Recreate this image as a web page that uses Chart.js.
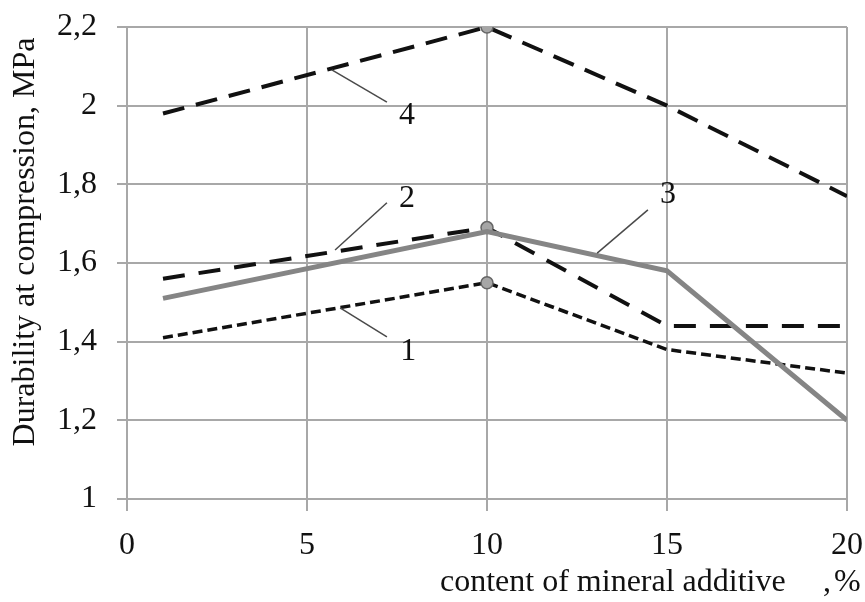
<!DOCTYPE html>
<html><head><meta charset="utf-8">
<script src="https://cdn.jsdelivr.net/npm/chart.js@4/dist/chart.umd.min.js"></script>
<style>html,body{margin:0;padding:0;background:#fff;} #wrap{width:865px;height:602px;}</style>
</head><body><div id="wrap"><canvas id="c" width="865" height="602"></canvas></div>
<script>
// ---- data ----
const xValues = [1, 10, 15, 20];
const series1 = [1.41, 1.55, 1.38, 1.32];
const series2 = [1.56, 1.69, 1.44, 1.44];
const series3 = [1.51, 1.68, 1.58, 1.20];
const series4 = [1.98, 2.20, 2.00, 1.77];
const xTickValues = [0, 5, 10, 15, 20];
const xTickLabels = ['0', '5', '10', '15', '20'];
const yTickValues = [1, 1.2, 1.4, 1.6, 1.8, 2, 2.2];
const yTickLabels = ['1', '1,2', '1,4', '1,6', '1,8', '2', '2,2'];
const yTitle = 'Durability at compression, MPa';
const xTitle = 'content of mineral additive';
const xTitleComma = ',';
const xTitleUnit = '%';
// callouts in data units: label, leader start (x,y), leader end (x,y), text centre (x,y)
const calloutLabels = ['1', '2', '3', '4'];
const calloutLine = [
  [5.92, 1.486, 7.22, 1.412],
  [5.78, 1.633, 7.22, 1.753],
  [13.06, 1.625, 14.47, 1.735],
  [5.69, 2.091, 7.22, 2.009]
];
const calloutText = [
  [7.81, 1.381],
  [7.78, 1.768],
  [15.03, 1.778],
  [7.78, 1.979]
];

const FONT = "'Liberation Serif', 'Times New Roman', serif";
const GRID = '#a8a8a8';
const toPts = s => xValues.map((x, i) => ({x: x, y: s[i]}));
const markerAt10 = ctx => ctx.dataIndex === 1 ? 6 : 0;

const annotPlugin = {
  id: 'annot',
  afterDatasetsDraw(chart) {
    const ctx = chart.ctx, xs = chart.scales.x, ys = chart.scales.y;
    ctx.save();
    ctx.strokeStyle = '#4a4a4a';
    ctx.lineWidth = 1.5;
    calloutLine.forEach(l => {
      ctx.beginPath();
      ctx.moveTo(xs.getPixelForValue(l[0]), ys.getPixelForValue(l[1]));
      ctx.lineTo(xs.getPixelForValue(l[2]), ys.getPixelForValue(l[3]));
      ctx.stroke();
    });
    ctx.fillStyle = '#111';
    ctx.font = '32px ' + FONT;
    ctx.textAlign = 'center';
    ctx.textBaseline = 'middle';
    calloutText.forEach((t, i) => {
      ctx.fillText(calloutLabels[i], xs.getPixelForValue(t[0]), ys.getPixelForValue(t[1]) + 2);
    });
    ctx.restore();
  },
  afterDraw(chart) {
    const ctx = chart.ctx;
    ctx.save();
    ctx.fillStyle = '#111';
    ctx.font = '32px ' + FONT;
    ctx.textBaseline = 'alphabetic';
    ctx.textAlign = 'left';
    ctx.fillText(xTitle, 440, 591);
    ctx.fillText(xTitleComma, 823, 591);
    ctx.fillText(xTitleUnit, 834, 591);
    ctx.translate(34, 242);
    ctx.rotate(-Math.PI / 2);
    ctx.textAlign = 'center';
    ctx.fillText(yTitle, 0, 0);
    ctx.restore();
  }
};

new Chart(document.getElementById('c'), {
  type: 'line',
  data: {
    datasets: [
      {label: '3', data: toPts(series3), borderColor: '#858585', borderWidth: 5, pointRadius: 0, fill: false},
      {label: '3b', data: toPts(series3), borderColor: '#dcdcdc', borderWidth: 1.5, pointRadius: 0, fill: false},
      {label: '1', data: toPts(series1), borderColor: '#111', borderWidth: 3.5, borderDash: [10, 5],
        pointRadius: markerAt10, pointBackgroundColor: '#a6a6a6', pointBorderColor: '#666', pointBorderWidth: 1.5},
      {label: '2', data: toPts(series2), borderColor: '#111', borderWidth: 4, borderDash: [22, 14],
        pointRadius: markerAt10, pointBackgroundColor: '#a6a6a6', pointBorderColor: '#666', pointBorderWidth: 1.5},
      {label: '4', data: toPts(series4), borderColor: '#111', borderWidth: 4, borderDash: [22, 12],
        pointRadius: markerAt10, pointBackgroundColor: '#a6a6a6', pointBorderColor: '#666', pointBorderWidth: 1.5}
    ]
  },
  options: {
    responsive: false,
    animation: false,
    events: [],
    layout: {padding: {top: 27, right: 18, left: 0, bottom: 0}},
    plugins: {legend: {display: false}, tooltip: {enabled: false}},
    elements: {line: {tension: 0, borderCapStyle: 'butt'}},
    scales: {
      x: {
        type: 'linear', min: 0, max: 20,
        afterBuildTicks: s => { s.ticks = xTickValues.map(v => ({value: v})); },
        afterFit: s => { s.height = 103; s.paddingLeft = 0; s.paddingRight = 0; },
        ticks: {callback: (v, i) => xTickLabels[i], font: {family: FONT, size: 32}, color: '#111', padding: 15, maxRotation: 0},
        grid: {color: GRID, lineWidth: 2, tickLength: 12},
        border: {color: GRID, width: 2}
      },
      y: {
        type: 'linear', min: 1, max: 2.2,
        afterBuildTicks: s => { s.ticks = yTickValues.map(v => ({value: v})); },
        afterFit: s => { s.width = 127; s.paddingTop = 0; s.paddingBottom = 0; },
        ticks: {callback: (v, i) => yTickLabels[i], font: {family: FONT, size: 32}, color: '#111', padding: 20},
        grid: {color: GRID, lineWidth: 2, tickLength: 10},
        border: {color: GRID, width: 2}
      }
    }
  },
  plugins: [annotPlugin]
});
</script>
</body></html>
